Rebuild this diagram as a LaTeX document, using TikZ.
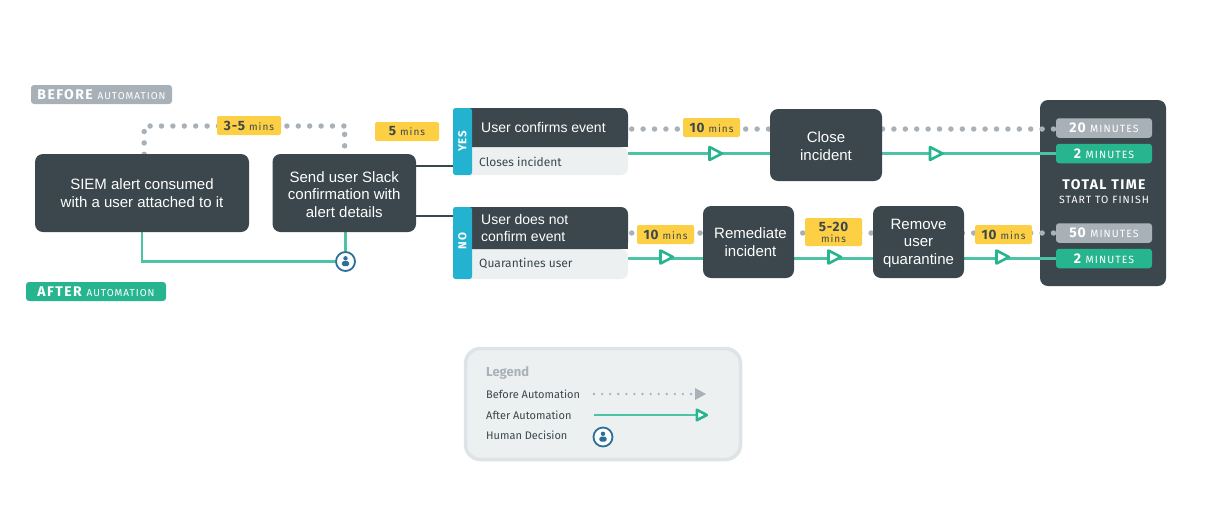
\documentclass[tikz,border=0pt]{standalone}
\usepackage{fontspec}
\usetikzlibrary{backgrounds}
\setmainfont{Liberation Sans}
\newfontfamily\lab[LetterSpace=6]{Fira Sans}
\newfontfamily\labw[LetterSpace=10]{Fira Sans}
\newfontfamily\capf{Fira Sans}
\definecolor{slate}{HTML}{3B474C}
\definecolor{tealline}{HTML}{4CC3A4}
\definecolor{tealfill}{HTML}{27B58F}
\definecolor{greyfill}{HTML}{A9B1B8}
\definecolor{yell}{HTML}{FDCF45}
\definecolor{strip}{HTML}{23B2D0}
\definecolor{pale}{HTML}{ECF0F1}
\definecolor{paleedge}{HTML}{DDE3E6}
\definecolor{human}{HTML}{2B6F9B}
\newcommand{\tm}[2]{{\lab\fontsize{13.5}{15}\selectfont\bfseries #1}\hspace{4pt}{\labw\fontsize{10}{12}\selectfont #2}}
\newcommand{\mn}[1]{{\lab\fontsize{14}{15}\selectfont\bfseries #1}\hspace{4.5pt}{\labw\fontsize{10.5}{12}\selectfont MINUTES}}
\newcommand{\bdg}[2]{{\labw\fontsize{14}{15}\selectfont\bfseries #1}\hspace{5pt}{\labw\fontsize{10}{12}\selectfont #2}}
\tikzset{
  x=1pt,y=-1pt,
  procbox/.style={fill=slate,text=white,rounded corners=8pt,inner sep=0pt,align=center,font=\fontsize{15}{17.5}\selectfont},
  proclabel/.style={text=white,inner sep=0pt,align=center,font=\fontsize{15}{17.5}\selectfont,yshift=-1.2pt},
  timechip/.style={fill=yell,text=slate,rounded corners=2pt,inner sep=0pt,align=center,minimum width=57pt,minimum height=19pt},
  pill/.style={rounded corners=3pt,inner sep=0pt,text=white,minimum width=96pt,minimum height=19.5pt},
  badge/.style={rounded corners=3pt,inner sep=0pt,text=white,minimum width=140pt,minimum height=19pt},
  beforeline/.style={draw=greyfill,line width=5.5pt,line cap=round,dash pattern=on 0pt off 11.4pt},
  afterline/.style={draw=tealline,line width=2.6pt},
  splitline/.style={draw=slate,line width=2pt},
  opentri/.pic={\draw[tealfill,line width=2.6pt,line join=round,fill=white] (-6.5,-6.5) -- (6,0) -- (-6.5,6.5) -- cycle;},
  person/.style={circle,draw=human,line width=1.8pt,fill=white,minimum size=19pt,inner sep=0pt,
    path picture={
      \fill[human] (0,-3.2) circle (2.2pt);
      \fill[human,rounded corners=1.5pt] (-3.6,4.6) rectangle (3.6,-0.4);
    }},
  legtext/.style={text=slate,anchor=west,inner sep=0pt,font=\capf\fontsize{11}{13}\selectfont},
  captext/.style={text=slate,anchor=west,inner sep=0pt,font=\capf\fontsize{12}{14}\selectfont},
  headtext/.style={text=white,anchor=west,inner sep=0pt,align=left,font=\fontsize{14}{17}\selectfont},
  tagtext/.style={text=white,inner sep=0pt,rotate=90,font=\lab\bfseries\fontsize{11.5}{13}\selectfont},
  dgroup/.style={inner sep=0pt,minimum width=175pt},
}
\begin{document}
\begin{tikzpicture}
\useasboundingbox (0,0) rectangle (1206,507);
% phase badges
\node[badge,fill=greyfill,minimum width=141pt] (bef) at (101.5,94.5) {\bdg{BEFORE}{AUTOMATION}};
\node[badge,fill=tealfill] (aft) at (96,291.5) {\bdg{AFTER}{AUTOMATION}};
% main boxes
\node[procbox,minimum width=214pt,minimum height=78pt] (siem) at (142,193) {SIEM alert consumed\\with a user attached to it};
\node[procbox,minimum width=143.5pt,minimum height=78pt] (send) at (344.25,193) {};
\node[proclabel] (sendt) at (send) {Send user Slack\\confirmation with\\alert details};
% yes group
\fill[pale,rounded corners=7pt] (460,147) rectangle (628,175);
\fill[pale] (472,147) rectangle (600,175);
\fill[slate,rounded corners=7pt] (460,108) rectangle (628,147);
\fill[slate] (466,135) rectangle (628,147);
\fill[strip,rounded corners=2.5pt] (453,108) rectangle (472,175);
\node[dgroup,minimum height=67pt] (yes) at (540.5,141.5) {};
\node[tagtext] at (462.5,141.5) {YES};
\node[headtext] (yeshead) at (481,127) {User confirms event};
\node[captext] (yescap) at (479,162) {Closes incident};
% no group
\fill[pale,rounded corners=7pt] (460,249) rectangle (628,279);
\fill[pale] (472,249) rectangle (600,279);
\fill[slate,rounded corners=7pt] (460,207) rectangle (628,249);
\fill[slate] (466,235) rectangle (628,249);
\fill[strip,rounded corners=2.5pt] (453,207) rectangle (472,279);
\node[dgroup,minimum height=72pt] (no) at (540.5,243) {};
\node[tagtext] at (462.5,241) {NO};
\node[headtext] (nohead) at (481,228) {User does not\\confirm event};
\node[captext] (nocap) at (479,263) {Quarantines user};
% later boxes
\node[procbox,minimum width=112pt,minimum height=72pt] (close) at (826,145) {};
\node[proclabel] (closet) at (close) {Close\\incident};
\node[procbox,minimum width=91pt,minimum height=72pt] (remed) at (748.5,242) {\hspace*{4pt}Remediate\\\hspace*{4pt}incident};
\node[procbox,minimum width=91pt,minimum height=72pt] (remove) at (918.5,242) {};
\node[proclabel] (removet) at (remove) {Remove\\user\\quarantine};
% total
\begin{pgfonlayer}{background}
\node[fill=slate,rounded corners=8pt,inner sep=0pt,minimum width=126pt,minimum height=186pt] (total) at (1103,193) {};
\end{pgfonlayer}
\node[pill,fill=greyfill] (p20) at (1104,128) {\mn{20}};
\node[pill,fill=tealfill] (p2a) at (1104,153.5) {\mn{2}};
\node[pill,fill=greyfill] (p50) at (1104,233) {\mn{50}};
\node[pill,fill=tealfill] (p2b) at (1104,258.5) {\mn{2}};
\node[text=white,inner sep=0pt] (ttl) at (1104,185) {\labw\bfseries\fontsize{14}{15}\selectfont TOTAL TIME};
\node[text=white,inner sep=0pt] (stf) at (1104,200) {\labw\fontsize{10.5}{12}\selectfont START TO FINISH};
% time chips
\node[timechip,minimum width=64pt] (c35) at (249,125.5) {\tm{3-5}{mins}};
\node[timechip,minimum width=64pt] (c5) at (407,131.5) {\tm{5}{mins}};
\node[timechip] (c10a) at (711.5,127.5) {\tm{10}{mins}};
\node[timechip] (c10b) at (665.5,234.5) {\tm{10}{mins}};
\node[timechip,minimum height=28pt] (c520) at (833.5,232) {{\lab\fontsize{13.5}{15}\selectfont\bfseries 5-20}\\[-1pt]{\labw\fontsize{10}{11}\selectfont mins}};
\node[timechip] (c10c) at (1003.5,234.5) {\tm{10}{mins}};
% decision
\node[person] (dec) at (345.5,261.5) {};
% connector anchors
\coordinate (lbot) at (144.2,154.3);
\coordinate (lup) at (144.2,126);
\coordinate (rup) at (344.6,126);
\coordinate (rdown) at (344.6,134.4);
\coordinate (ya) at (631.7,129);
\coordinate (yb) at (631.7,233);
\begin{pgfonlayer}{background}
  \draw[beforeline] (lbot) -- (lup) -- (rup);
  \draw[beforeline] (rdown) -- (send.north -| rdown);
  \draw[beforeline] (ya) -- (p20.west |- ya);
  \draw[beforeline] (yb) -- (p50.west);
  \draw[afterline] (siem.south) |- (dec.west);
  \draw[afterline] (send.south -| dec) -- (dec.north);
  \draw[splitline] (send.east |- yes.south) ++(0,-9) -- ++(37,0);
  \draw[splitline] (send.east |- no) ++(0,-27) -- ++(37,0);
  \draw[afterline] (yes.east |- p2a) -- (close.west |- p2a);
  \draw[afterline] (close.east |- p2a) -- (p2a.west);
  \draw[afterline] (no.east |- p2b) -- (remed.west |- p2b);
  \draw[afterline] (remed.east |- p2b) -- (remove.west |- p2b);
  \draw[afterline] (remove.east |- p2b) -- (p2b.west);
\end{pgfonlayer}
\pic at (716,153.5) {opentri};
\pic at (936.5,153.5) {opentri};
\pic at (667,257) {opentri};
\pic at (835,257) {opentri};
\pic at (1003,257) {opentri};
% legend
\node[fill=pale,draw=paleedge,line width=3.5pt,rounded corners=15pt,minimum width=275pt,minimum height=111pt,inner sep=0pt] (leg) at (603,404) {};
\node[text=greyfill,anchor=west,inner sep=0pt] (legt) at (486,372.5) {\capf\bfseries\fontsize{13}{15}\selectfont Legend};
\node[legtext] (l1) at (486,394) {Before Automation};
\node[legtext] (l2) at (486,415) {After Automation};
\node[legtext] (l3) at (486,435) {Human Decision};
\coordinate (lb0) at (594,394);
\coordinate (lb1) at (695,394);
\coordinate (la0) at (594,415);
\coordinate (la1) at (699,415);
\draw[greyfill,line width=2.6pt,line cap=round,dash pattern=on 0pt off 8.08pt] (lb0) -- (lb1);
\fill[greyfill] (695,388) -- (706,394) -- (695,400) -- cycle;
\draw[afterline] (la0) -- (la1);
\pic[scale=0.8] at (702,415) {opentri};
\node[person] (ldec) at (603,437) {};
\end{tikzpicture}
\end{document}
